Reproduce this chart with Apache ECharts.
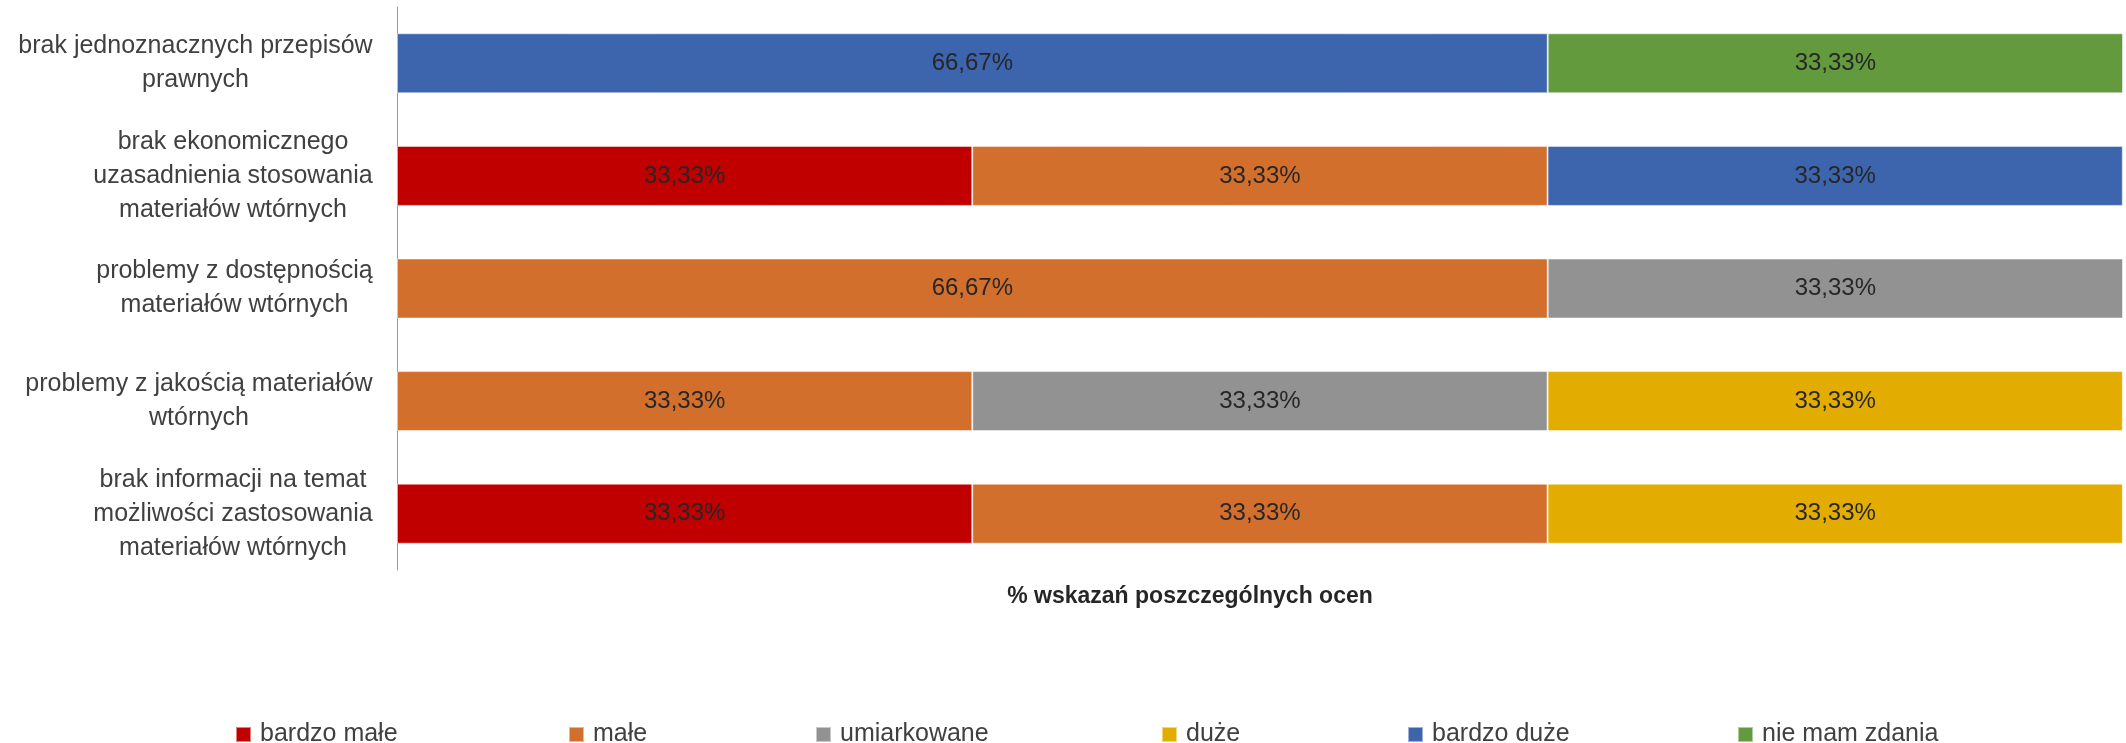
<!DOCTYPE html>
<html>
<head>
<meta charset="utf-8">
<script src="https://cdn.jsdelivr.net/npm/echarts@6/dist/echarts.min.js"></script>
<style>
  html, body { margin: 0; padding: 0; background: #fff; }
  #main { width: 2126px; height: 743px; }
</style>
</head>
<body>
<div id="main"></div>
<script>
// categories, top to bottom
var categories = [
  "brak jednoznacznych przepisów\nprawnych",
  "brak ekonomicznego\nuzasadnienia stosowania\nmateriałów wtórnych",
  "problemy z dostępnością\nmateriałów wtórnych",
  "problemy z jakością materiałów\nwtórnych",
  "brak informacji na temat\nmożliwości zastosowania\nmateriałów wtórnych"
];

var seriesNames = ["bardzo małe", "małe", "umiarkowane", "duże", "bardzo duże", "nie mam zdania"];
var seriesColors = ["#C00000", "#D36F2D", "#929292", "#E2AC00", "#3D65AD", "#629A3D"];

// % per category (null = no answer in that group)
var bardzoMale   = [null, 33.33, null, null, 33.33];
var male         = [null, 33.33, 66.67, 33.33, 33.33];
var umiarkowane  = [null, null, 33.33, 33.33, null];
var duze         = [null, null, null, 33.33, 33.33];
var bardzoDuze   = [66.67, 33.33, null, null, null];
var nieMamZdania = [33.33, null, null, null, null];

var seriesValues = [bardzoMale, male, umiarkowane, duze, bardzoDuze, nieMamZdania];

// legend item x positions (px)
var legendLeft = [230, 563, 810, 1156, 1402, 1732];

var labelFont = "25px 'Liberation Sans'";

// each category label: block right aligned to the axis, lines centred inside it
var ctx = document.createElement("canvas").getContext("2d");
ctx.font = labelFont;
var catRich = {};
categories.forEach(function (c, i) {
  var w = 0;
  c.split("\n").forEach(function (line) {
    w = Math.max(w, ctx.measureText(line).width);
  });
  catRich["c" + i] = {
    width: Math.ceil(w),
    align: "center",
    color: "#404040",
    fontSize: 25,
    lineHeight: 34,
    fontFamily: "Liberation Sans"
  };
});

var myChart = echarts.init(document.getElementById("main"));

var series = seriesNames.map(function (name, i) {
  return {
    name: name,
    type: "bar",
    stack: "total",
    barWidth: 60,
    data: seriesValues[i],
    itemStyle: {
      color: seriesColors[i],
      borderColor: "rgba(255,255,255,0.5)",
      borderWidth: 1
    },
    label: {
      show: true,
      position: "inside",
      color: "#262626",
      fontSize: 24,
      fontFamily: "Liberation Sans",
      formatter: function (p) {
        return p.value.toFixed(2).replace(".", ",") + "%";
      }
    },
    emphasis: { disabled: true }
  };
});

var legends = seriesNames.map(function (name, i) {
  return {
    data: [name],
    left: legendLeft[i],
    top: 717,
    itemWidth: 15,
    itemHeight: 15,
    icon: "rect",
    textStyle: {
      color: "#404040",
      fontSize: 25,
      fontFamily: "Liberation Sans",
      padding: [0, 0, 0, 4]
    }
  };
});

var option = {
  animation: false,
  legend: legends,
  grid: {
    left: 397,
    right: 3,
    top: 7,
    bottom: 173,
    containLabel: false
  },
  xAxis: {
    type: "value",
    min: 0,
    max: 100,
    name: "% wskazań poszczególnych ocen",
    nameLocation: "middle",
    nameGap: 15,
    nameTextStyle: {
      color: "#262626",
      fontSize: 23,
      fontWeight: "bold",
      fontFamily: "Liberation Sans",
      padding: [0, 140, 0, 0]
    },
    axisLine: { show: false },
    axisTick: { show: false },
    axisLabel: { show: false },
    splitLine: { show: false }
  },
  yAxis: {
    type: "category",
    inverse: true,
    data: categories,
    axisTick: { show: false },
    axisLine: { lineStyle: { color: "#9a9a9a", width: 1 } },
    axisLabel: {
      margin: 24,
      align: "right",
      formatter: function (value, index) {
        return value.split("\n").map(function (line) {
          return "{c" + index + "|" + line + "}";
        }).join("\n");
      },
      rich: catRich
    }
  },
  series: series
};

myChart.setOption(option);
</script>
</body>
</html>
